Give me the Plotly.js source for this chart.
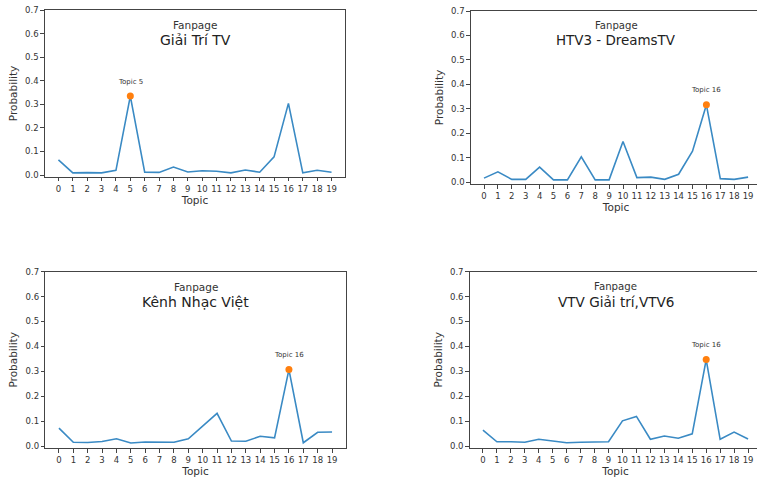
<!DOCTYPE html>
<html>
<head>
<meta charset="utf-8">
<script src="https://cdn.plot.ly/plotly-3.0.1.min.js"></script>
<style>
html,body{margin:0;padding:0;overflow:hidden;background:#fff;}
#chart{width:765px;height:477px;}
</style>
</head>
<body>
<div id="chart"></div>
<script>
// ---- data ----
const topics = [0,1,2,3,4,5,6,7,8,9,10,11,12,13,14,15,16,17,18,19];
const tickLabels = ["0","1","2","3","4","5","6","7","8","9","10","11","12","13","14","15","16","17","18","19"];
const pageNames = ["Giải Trí TV", "HTV3 - DreamsTV", "Kênh Nhạc Việt", "VTV Giải trí,VTV6"];
const giaiTriTV = [0.064,0.009,0.010,0.009,0.020,0.335,0.012,0.011,0.034,0.013,0.018,0.016,0.009,0.021,0.012,0.077,0.304,0.009,0.020,0.012];
const htv3DreamsTV = [0.016,0.042,0.011,0.011,0.061,0.009,0.009,0.103,0.009,0.009,0.166,0.018,0.020,0.011,0.032,0.126,0.316,0.014,0.011,0.020];
const kenhNhacViet = [0.072,0.015,0.014,0.018,0.029,0.012,0.016,0.016,0.015,0.029,0.082,0.131,0.020,0.019,0.039,0.033,0.307,0.013,0.055,0.056];
const vtvGiaiTri = [0.064,0.017,0.017,0.015,0.027,0.021,0.013,0.015,0.015,0.017,0.101,0.119,0.027,0.040,0.031,0.049,0.347,0.027,0.056,0.028];
const seriesList = [giaiTriTV, htv3DreamsTV, kenhNhacViet, vtvGiaiTri];

// ---- layout geometry (pixels) ----
const W = 765, H = 477;
const boxes = [
  {l:44.8, r:345.2, t:10,  b:176.9, fs:1.0},
  {l:470.8, r:761.3, t:11, b:184, fs:0.96},
  {l:45.3, r:345.7, t:271.7, b:448, fs:1.0},
  {l:469.7, r:761.3, t:271.7, b:448, fs:0.97}
];
const textCol = '#333';
const frameCol = '#444';
const font = 'DejaVu Sans, sans-serif';

const data = [];
const layout = {
  width: W, height: H,
  margin: {l:0, r:0, t:0, b:0},
  paper_bgcolor: '#fff', plot_bgcolor: '#fff',
  showlegend: false,
  font: {family: font, color: textCol},
  annotations: []
};

seriesList.forEach((vals, i) => {
  const n = i + 1;
  const xa = 'x' + (n === 1 ? '' : n), ya = 'y' + (n === 1 ? '' : n);
  const xk = 'xaxis' + (n === 1 ? '' : n), yk = 'yaxis' + (n === 1 ? '' : n);
  const b = boxes[i];
  data.push({
    x: topics, y: vals, xaxis: xa, yaxis: ya, type: 'scatter', mode: 'lines',
    line: {color: '#3a8ac4', width: 1.6}, hoverinfo: 'skip'
  });
  let mi = 0;
  vals.forEach((v, k) => { if (v > vals[mi]) mi = k; });
  data.push({
    x: [topics[mi]], y: [vals[mi]], xaxis: xa, yaxis: ya, type: 'scatter', mode: 'markers',
    marker: {color: '#ff7f0e', size: 7}, hoverinfo: 'skip'
  });
  layout[xk] = {
    domain: [b.l / W, b.r / W], anchor: ya, range: [-0.95, 19.95],
    tickmode: 'array', tickvals: topics, ticktext: tickLabels,
    ticks: 'outside', ticklen: 3.5, tickwidth: 1, tickcolor: frameCol,
    showline: true, mirror: true, linecolor: frameCol, linewidth: 1,
    showgrid: false, zeroline: false,
    tickfont: {size: 8.5, color: textCol, family: font},
    title: {text: 'Topic', font: {size: 10.5, color: textCol, family: font}, standoff: 2}
  };
  layout[yk] = {
    domain: [1 - b.b / H, 1 - b.t / H], anchor: xa, range: [-0.008, 0.7],
    tickmode: 'array', tickvals: [0,0.1,0.2,0.3,0.4,0.5,0.6,0.7],
    ticktext: ['0.0','0.1','0.2','0.3','0.4','0.5','0.6','0.7'],
    ticks: 'outside', ticklen: 3.5, tickwidth: 1, tickcolor: frameCol,
    showline: true, mirror: true, linecolor: frameCol, linewidth: 1,
    showgrid: false, zeroline: false,
    tickfont: {size: 8.5, color: textCol, family: font},
    title: {text: 'Probability', font: {size: 10.5, color: textCol, family: font}, standoff: 5}
  };
  layout.annotations.push({
    xref: xa + ' domain', yref: ya + ' domain', x: 0.5, y: 1, yshift: -15,
    xanchor: 'center', yanchor: 'middle', showarrow: false,
    text: 'Fanpage', font: {size: 10.5 * b.fs, color: textCol, family: font}
  });
  layout.annotations.push({
    xref: xa + ' domain', yref: ya + ' domain', x: 0.5, y: 1, yshift: -30,
    xanchor: 'center', yanchor: 'middle', showarrow: false,
    text: pageNames[i], font: {size: 14 * b.fs, color: '#222', family: font}
  });
  layout.annotations.push({
    xref: xa, yref: ya, x: topics[mi], y: vals[mi] + 0.06,
    xanchor: 'center', yanchor: 'middle', showarrow: false,
    text: 'Topic ' + topics[mi], font: {size: 7, color: textCol, family: font}
  });
});

Plotly.newPlot('chart', data, layout, {displayModeBar: false, staticPlot: true});
</script>
</body>
</html>
